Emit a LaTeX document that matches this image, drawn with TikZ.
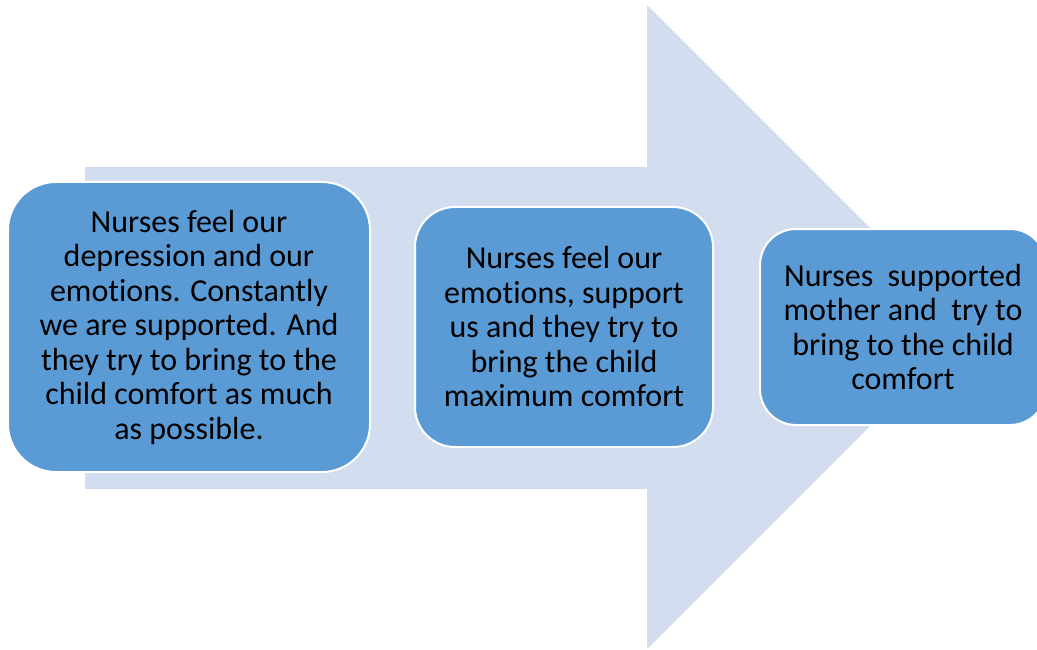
\documentclass[tikz,border=0pt]{standalone}
\usepackage{fontspec}
\setmainfont[Ligatures={NoCommon}]{Carlito}
\definecolor{arrowfill}{HTML}{D2DDEF}
\definecolor{boxfill}{HTML}{5B9BD5}
\tikzset{
  stagebox/.style={draw=white, line width=2pt, fill=boxfill, inner sep=0pt,
    align=center, font=\fontsize{32}{34.5}\selectfont, text=black},
}
\begin{document}
\begin{tikzpicture}[x=1pt,y=-1pt]
\useasboundingbox (0,0) rectangle (1037,650);
\begin{scope}
\clip (0,0) rectangle (1037,650);
% big arrow
\fill[arrowfill] (85,167) -- (647,167) -- (647,5) -- (969,327) -- (647,649) -- (647,489) -- (85,489) -- cycle;
% boxes
\node[stagebox, rounded corners=48pt, minimum width=362pt, minimum height=290pt] (b1) at (189,327)
  {Nurses feel our\\depression and our\\emotions. Constantly\\we are supported. And\\they try to bring to the\\child comfort as much\\as possible.};
\node[stagebox, rounded corners=40pt, minimum width=298pt, minimum height=240pt] (b2) at (564,327)
  {Nurses feel our\\emotions, support\\us and they try to\\bring the child\\maximum comfort};
\node[stagebox, rounded corners=36pt, minimum width=286pt, minimum height=196pt] (b3) at (903,327)
  {Nurses\ \ supported\\mother and\ \ try to\\bring to the child\\comfort};
\end{scope}
\end{tikzpicture}
\end{document}
